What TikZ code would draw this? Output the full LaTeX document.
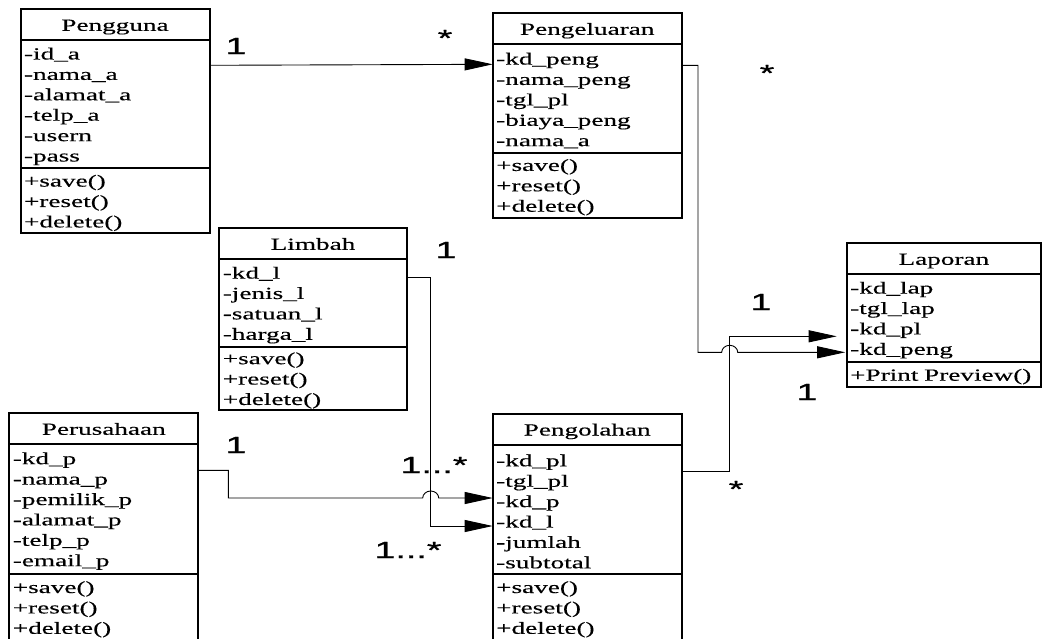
\documentclass[tikz,border=0pt]{standalone}
\usepackage{fontspec}
\setmainfont{Liberation Serif}[FakeStretch=1.6,FakeBold=0.3]
\newfontfamily\multfont{Liberation Sans}[FakeStretch=1.6,FakeBold=1]
\usetikzlibrary{arrows.meta}

\tikzset{
  clsfont/.style={font=\fontsize{17}{20.4}\selectfont},
  clshead/.style={draw, line width=2pt, inner sep=0pt, outer sep=0pt,
    anchor=north west, minimum height=31pt, text height=12pt, text depth=0pt,
    clsfont},
  clsbody/.style={draw, line width=2pt, inner xsep=3.5pt, inner ysep=0pt,
    outer sep=0pt, anchor=north west, align=left, clsfont},
  conn/.style={line width=0.9pt},
  assoc/.style={conn, -{Triangle[length=28pt,width=12pt]}},
  mult/.style={inner sep=0pt, font=\multfont\fontsize{23.5}{26}\selectfont},
}

% UML class box: name, x, y, width, title, attribute height, attributes,
% method height, methods
\newcommand\umlclass[9]{%
  \pgfmathsetmacro\clstw{#4-7}%
  \node[clshead, minimum width=#4pt] (#1-t) at (#2,#3) {#5};
  \node[clsbody, text width=\clstw pt, minimum height=#6pt] (#1-a)
    at (#1-t.south west) {\rule{0pt}{16pt}#7};
  \node[clsbody, text width=\clstw pt, minimum height=#8pt] (#1-m)
    at (#1-a.south west) {\rule{0pt}{16pt}#9};
}

\begin{document}
\begin{tikzpicture}[x=1pt,y=-1pt]
\useasboundingbox (0,0) rectangle (1046,638);
\fill[white] (0,0) rectangle (1046,638);
\clip (0,0) rectangle (1046,638);

% classes
\umlclass{pengguna}{20.5}{9.3}{189}{Pengguna}{128}%
  {-id\_a\\-nama\_a\\-alamat\_a\\-telp\_a\\-usern\\-pass}{65}%
  {+save()\\+reset()\\+delete()}
\umlclass{pengeluaran}{492.7}{13.3}{189}{Pengeluaran}{108.3}%
  {-kd\_peng\\-nama\_peng\\-tgl\_pl\\-biaya\_peng\\-nama\_a}{65}%
  {+save()\\+reset()\\+delete()}
\umlclass{limbah}{219.3}{228.3}{187.4}{Limbah}{87.4}%
  {-kd\_l\\-jenis\_l\\-satuan\_l\\-harga\_l}{63.3}%
  {+save()\\+reset()\\+delete()}
\umlclass{perusahaan}{9.3}{413.3}{189}{Perusahaan}{129.4}%
  {-kd\_p\\-nama\_p\\-pemilik\_p\\-alamat\_p\\-telp\_p\\-email\_p}{67}%
  {+save()\\+reset()\\+delete()}
\umlclass{pengolahan}{492.7}{414}{189}{Pengolahan}{128.7}%
  {-kd\_pl\\-tgl\_pl\\-kd\_p\\-kd\_l\\-jumlah\\-subtotal}{67}%
  {+save()\\+reset()\\+delete()}
\umlclass{laporan}{846.7}{243.3}{194.3}{Laporan}{87.4}%
  {-kd\_lap\\-tgl\_lap\\-kd\_pl\\-kd\_peng}{25.6}%
  {+Print Preview()}

% connector end points
\coordinate (s1) at ([yshift=-25pt]pengguna-a.north east);
\coordinate (t1) at ([yshift=-20pt]pengeluaran-a.north west);
\coordinate (s2) at ([yshift=-21pt]pengeluaran-a.north east);
\coordinate (t2) at ([xshift=-1.5pt,yshift=-78pt]laporan-a.north west);
\coordinate (s3) at ([yshift=-26pt]pengolahan-a.north east);
\coordinate (t3) at ([xshift=-10pt,yshift=-62pt]laporan-a.north west);
\coordinate (s4) at ([yshift=-18pt]limbah-a.north east);
\coordinate (t4) at ([yshift=-81pt]pengolahan-a.north west);
\coordinate (s5) at ([yshift=-26pt]perusahaan-a.north east);
\coordinate (t5) at ([yshift=-53pt]pengolahan-a.north west);

% associations
\draw[assoc] (s1) -- (t1);
\draw[assoc] (s3) -- ++(48,0) |- (t3);
\draw[assoc] (s2) -- ++(16.3,0) |- ([xshift=-123.5pt]t2)
  arc[start angle=180, end angle=0, x radius=8pt, y radius=7pt] -- (t2);
\draw[assoc] (s4) -- ++(24,0) |- (t4);
\draw[assoc] (s5) -- ++(30,0) |- ([xshift=-70pt]t5)
  arc[start angle=180, end angle=0, x radius=8pt, y radius=7pt] -- (t5);

% multiplicities
\node[mult] (m1) at (236,46) {1};
\node[mult] (m2) at (445,38) {*};
\node[mult] (m3) at (767,73) {*};
\node[mult] (m4) at (446,250) {1};
\node[mult] (m5) at (761,302) {1};
\node[mult] (m6) at (807,392) {1};
\node[mult] (m7) at (736,489) {*};
\node[mult] (m8) at (236,445) {1};
\node[mult] (m9) at (434,465) {1...*};
\node[mult] (m10) at (408,550) {1...*};
\end{tikzpicture}
\end{document}
